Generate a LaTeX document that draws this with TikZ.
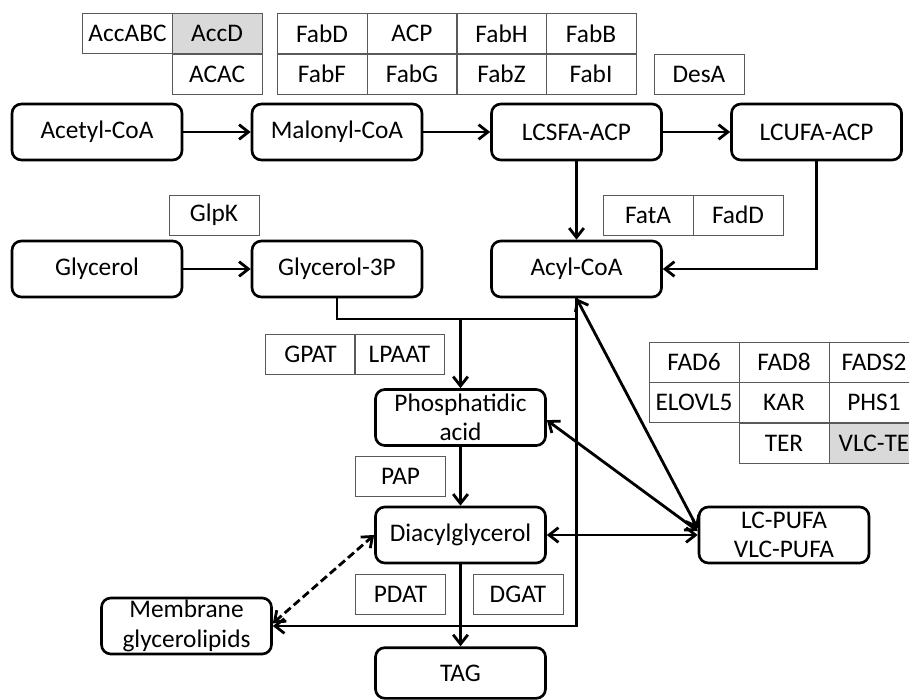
\documentclass[tikz,border=0pt]{standalone}
\usepackage{fontspec}
\setmainfont{Carlito}
\usetikzlibrary{arrows.meta}

\tikzset{
  >={Straight Barb[length=7pt,width=11pt]},
  pool/.style={draw, line width=2pt, rounded corners=7pt, minimum width=127.5pt,
    minimum height=42pt, align=center, inner sep=0pt},
  enzyme/.style={draw=black!65, line width=0.7pt, minimum width=67.5pt,
    minimum height=30pt, inner sep=0pt},
  lost/.style={enzyme, fill=black!15},
  flow/.style={->, line width=2.1pt},
  link/.style={line width=2.1pt},
}

\begin{document}
\begin{tikzpicture}[x=0.75pt, y=-0.75pt, font=\fontsize{19}{22}\selectfont]
    \clip (0,0) rectangle (909,699);

    % enzymes, top
    \node[enzyme] (accabc) at (127.5,33.5) {AccABC};
    \node[lost]   (accd)   at (217,33.5)   {AccD};
    \node[enzyme] (acac)   at (217,74)     {ACAC};
    \node[enzyme] (fabd)   at (322,33.5)   {FabD};
    \node[enzyme] (acp)    at (412,33.5)   {ACP};
    \node[enzyme] (fabh)   at (501.5,33.5) {FabH};
    \node[enzyme] (fabb)   at (591,33.5)   {FabB};
    \node[enzyme] (fabf)   at (322,74)     {FabF};
    \node[enzyme] (fabg)   at (412,74)     {FabG};
    \node[enzyme] (fabz)   at (501.5,74)   {FabZ};
    \node[enzyme] (fabi)   at (591,74)     {FabI};
    \node[enzyme] (desa)   at (699,74)     {DesA};

    % fatty acid row
    \node[pool] (acetyl)  at (97,132)    {Acetyl-CoA};
    \node[pool] (malonyl) at (337,132)   {Malonyl-CoA};
    \node[pool] (lcsfa)   at (576.5,132) {LCSFA-ACP};
    \node[pool] (lcufa)   at (816.5,132) {LCUFA-ACP};

    % glycerol row
    \node[enzyme] (glpk) at (214,215) {GlpK};
    \node[enzyme] (fata) at (648,215) {FatA};
    \node[enzyme] (fadd) at (738,215) {FadD};
    \node[pool] (glycerol) at (97,269)    {Glycerol};
    \node[pool] (g3p)      at (337,269)   {Glycerol-3P};
    \node[pool] (acyl)     at (576.5,269) {Acyl-CoA};

    % Kennedy pathway
    \node[enzyme] (gpat)  at (310.5,354.5) {GPAT};
    \node[enzyme] (lpaat) at (399.5,354.5) {LPAAT};
    \node[pool] (pa)  at (460.5,417.5) {Phosphatidic\\acid};
    \node[enzyme] (pap) at (400.5,476) {PAP};
    \node[pool] (dag) at (460.5,535) {Diacylglycerol};
    \node[enzyme] (pdat) at (400.5,594) {PDAT};
    \node[enzyme] (dgat) at (518,594)   {DGAT};
    \node[pool, minimum height=38pt] (tag) at (460.5,673) {TAG};
    \node[pool] (membrane) at (186.5,626) {Membrane\\glycerolipids};

    % PUFA
    \node[pool] (lcpufa) at (784,535) {LC-PUFA\\VLC-PUFA};
    \node[enzyme] (fad6)   at (694,362)   {FAD6};
    \node[enzyme] (fad8)   at (784,362)   {FAD8};
    \node[enzyme] (fads2)  at (874,362)   {FADS2};
    \node[enzyme] (elovl5) at (694,402.5) {ELOVL5};
    \node[enzyme] (kar)    at (784,402.5) {KAR};
    \node[enzyme] (phs1)   at (874,402.5) {PHS1};
    \node[enzyme] (ter)    at (784,443)   {TER};
    \node[lost]   (vlcte)  at (874,443)   {VLC-TE};

    \draw[flow] (acetyl) -- (malonyl);
    \draw[flow] (malonyl) -- (lcsfa);
    \draw[flow] (lcsfa) -- (lcufa);
    \draw[flow] (lcsfa) -- (acyl);
    \draw[flow] (lcufa.south) |- (acyl.east);
    \draw[flow] (glycerol) -- (g3p);

    \coordinate (bus) at (460.5,319);
    \draw[link] (g3p.south) |- (bus) -| (acyl.south);
    \draw[flow] (bus) -- (pa.north);
    \draw[flow] (pa) -- (dag);
    \draw[flow] (dag) -- (tag);
    \draw[flow] (acyl.south) |- (membrane.east);
    \draw[flow, <->, dash pattern=on 6pt off 3pt] ([yshift=2pt]membrane.east) -- (dag.west);

    \draw[flow, <->] (acyl.south) -- ([yshift=5pt]lcpufa.west);
    \draw[flow, <->] ([yshift=-2pt]pa.east) -- ([yshift=3pt]lcpufa.west);
    \draw[flow, <->] (dag.east) -- (lcpufa.west);
\end{tikzpicture}
\end{document}
